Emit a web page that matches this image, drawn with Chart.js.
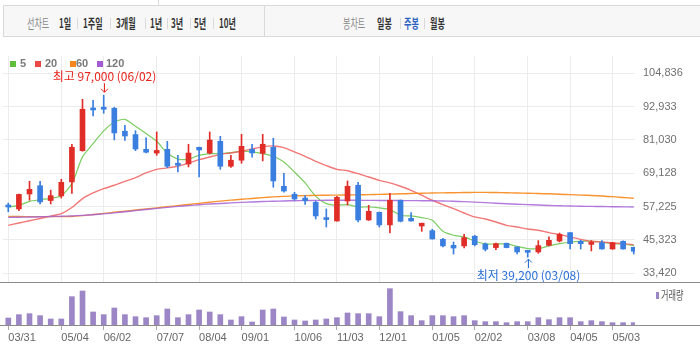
<!DOCTYPE html>
<html><head><meta charset="utf-8">
<script src="https://cdn.jsdelivr.net/npm/chart.js@4.4.0/dist/chart.umd.min.js"></script>
<style>
html,body{margin:0;padding:0;background:#fff;}
body{width:700px;height:361px;position:relative;overflow:hidden;font-family:'Noto Sans CJK KR','Noto Sans',sans-serif;}
canvas{position:absolute;left:0;}
#price{top:40px;}
#vol{top:283px;}
.box{position:absolute;left:3px;top:5px;width:697px;height:32px;box-sizing:border-box;background:#f7f7f7;border:1px solid #d9d9d9;border-right:none;}
.hd{position:absolute;top:15px;font-size:13px;line-height:15px;transform:scaleX(0.62);transform-origin:0 0;white-space:nowrap;font-weight:bold;color:#333;z-index:2;}
.hd.lab{font-weight:normal;color:#8a8a8a;}
.hd.on{color:#2c5fc3;}
.sep{position:absolute;top:18px;width:1px;height:11px;background:#dadada;z-index:2;}
.lg{position:absolute;top:57px;font:bold 11px 'Liberation Sans',Arial,sans-serif;color:#7a7a7a;line-height:13px;z-index:2;}
.sq{position:absolute;top:61px;width:6px;height:6px;z-index:2;}
.axline{position:absolute;left:0;width:700px;height:1px;background:#8c8c8c;z-index:2;}
</style></head>
<body>
<div style="position:absolute;left:158px;top:0;width:1px;height:5px;background:#d9d9d9"></div>
<div class="box"></div>
<div style="position:absolute;left:264px;top:5px;width:1px;height:32px;background:#d9d9d9"></div>
<span class="hd lab" style="left:27px">선차트</span>
<span class="hd" style="left:59px">1일</span><span class="sep" style="left:77px"></span>
<span class="hd" style="left:83px">1주일</span><span class="sep" style="left:110px"></span>
<span class="hd" style="left:116px">3개월</span><span class="sep" style="left:145px"></span>
<span class="hd" style="left:150px">1년</span><span class="sep" style="left:167px"></span>
<span class="hd" style="left:171px">3년</span><span class="sep" style="left:190px"></span>
<span class="hd" style="left:194px">5년</span><span class="sep" style="left:213px"></span>
<span class="hd" style="left:219px">10년</span>
<span class="hd lab" style="left:343px">봉차트</span>
<span class="hd" style="left:377px">일봉</span><span class="sep" style="left:400px"></span>
<span class="hd on" style="left:404px">주봉</span><span class="sep" style="left:424px"></span>
<span class="hd" style="left:430px">월봉</span>

<span class="sq" style="left:10px;background:#5fbf3c"></span><span class="lg" style="left:20px">5</span>
<span class="sq" style="left:35px;background:#ec4747"></span><span class="lg" style="left:45px">20</span>
<span class="sq" style="left:70px;background:#f7861c"></span><span class="lg" style="left:76px">60</span>
<span class="sq" style="left:97px;background:#a25bd2"></span><span class="lg" style="left:106px">120</span>

<canvas id="price" width="700" height="243"></canvas>
<canvas id="vol" width="700" height="78"></canvas>
<div class="axline" style="top:282px"></div>
<div class="axline" style="top:325px"></div>
<span style="position:absolute;left:656px;top:292px;width:3px;height:7px;background:#9c86c6;z-index:2"></span>
<span style="position:absolute;left:661px;top:288px;font-size:12px;line-height:14px;color:#555;transform:scaleX(0.68);transform-origin:0 0;white-space:nowrap;z-index:2">거래량</span>

<script>
// ---- data (weekly candles) ----
const open  = [57500,56400,61750,64700,59400,61050,66050,77200,92250,92700,92350,84150,82950,77700,76350,77700,72700,72450,78400,76350,80550,71650,73800,77700,76250,78400,64500,61650,60300,58800,53200,52100,59250,64850,52450,55200,50700,59500,53050,50300,48650,45550,43400,43200,46650,43900,42600,44150,42800,41500,41050,43400,44950,47950,44850,43750,44350,42100,44850,42700];
const high  = [58500,61700,66300,66300,63100,67000,79500,95550,95200,97000,92700,86250,84350,81750,83900,80550,75550,79500,78500,83900,82350,75550,83050,79500,83050,81650,69150,62350,61150,59150,56400,60900,66400,65900,57700,55300,62000,59600,55100,51350,49150,45900,44600,47350,47000,44250,44200,44200,42900,41600,45100,46400,47800,48000,45200,45100,45100,44500,45000,42800];
const low   = [55400,55800,59500,58200,58200,60300,61900,77000,89600,90550,81050,80900,77200,76400,75550,71150,69600,71400,67800,76000,70550,71250,72700,74850,73550,64150,62350,59500,58050,52800,49950,52000,57800,51750,52300,49950,47800,51750,52000,48400,45600,42800,40300,42450,43200,41400,41850,42500,40300,39200,40550,43200,44600,42100,42100,41400,42000,42000,42000,40300];
const close = [57100,61600,63400,58900,61150,65900,78400,92000,91750,92000,83550,82450,77800,76650,77300,71650,72000,76350,77450,81000,71650,73800,78750,76400,79500,66400,62800,59950,59350,53900,52600,60550,64500,52450,55550,50700,59500,52000,52100,51300,45700,43200,42450,46150,43650,42000,44000,42600,41050,40900,43300,45200,47350,44000,44000,44350,42100,44350,42100,41300];
const volume = [210,310,340,280,180,180,850,1020,390,310,510,310,250,220,280,480,220,310,450,390,310,150,250,90,450,480,240,150,120,150,180,220,360,340,340,250,1090,400,280,130,280,280,250,280,130,100,100,70,100,100,220,160,220,220,100,130,100,70,70,70];
const ma5   = [57100,57700,59100,59700,60200,61150,65450,75000,79700,84250,87450,88400,85900,83300,80550,76350,74200,74200,75550,76150,76150,76500,77000,76750,76150,75200,73200,69600,65700,60900,58300,57700,57950,57100,57100,56750,56150,54150,53900,53300,52350,48400,47000,46400,44950,43900,43900,43900,43050,42250,42250,43200,44000,44600,44850,44850,44600,44000,43800,43300];
const ma20  = [50550,51400,52200,53000,53850,54750,56900,60100,62100,63650,64850,66250,67600,69250,70550,71050,71650,72800,74000,74950,75900,76400,77000,77800,78550,78900,78300,76750,75200,73400,71900,70550,70050,69000,67800,66600,65700,64500,63050,61300,59500,57950,56500,54950,53550,52800,51750,50550,49950,49250,48800,47950,47250,46400,45550,44850,44600,44250,44000,43650];
const ma60  = [53700,53680,53660,53650,53650,53650,53700,54000,54400,54800,55200,55600,56000,56400,56800,57200,57600,58000,58400,58800,59200,59550,59850,60150,60450,60700,60900,61050,61150,61250,61300,61350,61400,61450,61500,61600,61700,61800,61900,62000,62100,62150,62200,62250,62300,62300,62250,62200,62100,62000,61900,61800,61650,61500,61350,61200,61000,60800,60500,60200];
const ma120 = [53400,53450,53500,53600,53700,53800,53900,54100,54350,54650,55000,55400,55800,56200,56600,56950,57300,57600,57900,58150,58350,58550,58750,58900,59050,59150,59250,59350,59400,59450,59500,59500,59500,59480,59460,59440,59420,59400,59370,59340,59300,59250,59150,59000,58850,58650,58450,58250,58100,57950,57800,57650,57550,57450,57350,57300,57250,57200,57150,57100];
const tickIdx    = [0,5,9,14,18,22,27,31,35,40,44,49,53,57];
const tickLabels = ['03/31','05/04','06/02','07/07','08/04','09/01','10/06','11/03','12/01','01/05','02/02','03/08','04/05','05/03'];
const priceTicks = [33420,45323,57225,69128,81030,92933,104836];

// ---- chart ----
Chart.defaults.font.family = "'Liberation Sans', Arial, sans-serif";
Chart.defaults.font.size = 11;
const UP = '#e02d27', DOWN = '#3a7ee0';
const idx = open.map((_, i) => i);
const candleColors = idx.map(i => close[i] >= open[i] ? UP : DOWN);
const fmt = v => v.toLocaleString('en-US');
const labelOf = i => { const k = tickIdx.indexOf(i); return k >= 0 ? tickLabels[k] : ''; };
const setTicks = arr => s => { s.ticks = arr.map(v => ({value: v})); };

const extremes = {
  id: 'extremes',
  afterDatasetsDraw(chart) {
    const {ctx, scales: {x, y}} = chart;
    let hi = 0, lo = 0;
    idx.forEach(i => { if (high[i] > high[hi]) hi = i; if (low[i] < low[lo]) lo = i; });
    ctx.save();
    ctx.font = "12px 'Noto Sans CJK KR', sans-serif";
    ctx.textAlign = 'center';
    ctx.textBaseline = 'middle';
    ctx.lineWidth = 1;
    let px = Math.round(x.getPixelForValue(hi)) + 0.5, py = y.getPixelForValue(high[hi]);
    ctx.fillStyle = '#e8231c'; ctx.strokeStyle = '#e8231c';
    ctx.fillText('최고 ' + fmt(high[hi]) + ' (' + labelOf(hi) + ')', px, py - 19);
    ctx.beginPath(); ctx.moveTo(px, py - 12); ctx.lineTo(px, py - 3);
    ctx.moveTo(px - 3.5, py - 6.5); ctx.lineTo(px, py - 3); ctx.lineTo(px + 3.5, py - 6.5); ctx.stroke();
    px = Math.round(x.getPixelForValue(lo)) + 0.5; py = y.getPixelForValue(low[lo]);
    ctx.fillStyle = '#2a6fd6'; ctx.strokeStyle = '#2a6fd6';
    ctx.fillText('최저 ' + fmt(low[lo]) + ' (' + labelOf(lo) + ')', px, py + 18);
    ctx.beginPath(); ctx.moveTo(px, py + 11); ctx.lineTo(px, py + 2);
    ctx.moveTo(px - 3.5, py + 5.5); ctx.lineTo(px, py + 2); ctx.lineTo(px + 3.5, py + 5.5); ctx.stroke();
    ctx.restore();
  }
};

const maLine = (label, arr, color, w) => ({
  type: 'line', label, data: arr.map((v, i) => ({x: i, y: v})),
  borderColor: color, borderWidth: w, pointRadius: 0, tension: 0.25, order: 2
});

new Chart(document.getElementById('price'), {
  type: 'bar',
  data: { datasets: [
    maLine('120', ma120, 'rgba(165,100,215,0.85)', 1.4),
    maLine('60', ma60, 'rgba(248,135,25,0.9)', 1.4),
    maLine('20', ma20, 'rgba(240,95,95,0.85)', 1.4),
    maLine('5', ma5, 'rgba(110,200,80,0.9)', 1.2),
    { label: 'wick', data: idx.map(i => ({x: i, y: [low[i], high[i]]})), backgroundColor: candleColors,
      barThickness: 1, grouped: false, minBarLength: 1, order: 1 },
    { label: 'body', data: idx.map(i => ({x: i, y: [open[i], close[i]]})), backgroundColor: candleColors,
      barThickness: 5, grouped: false, minBarLength: 2, order: 0 }
  ]},
  options: {
    animation: false, responsive: false, maintainAspectRatio: false,
    layout: { padding: { left: 3, right: 0, top: 16, bottom: 0 } },
    plugins: { legend: { display: false }, tooltip: { enabled: false } },
    scales: {
      x: { type: 'linear', offset: false, min: -0.5, max: 59.12, afterBuildTicks: setTicks(tickIdx),
           ticks: { display: false }, grid: { color: '#ececec', drawTicks: false, offset: false },
           border: { display: false },
           afterFit: s => { s.height = 0; s.paddingLeft = 0; s.paddingRight = 0; } },
      y: { position: 'right', min: 29956, max: 111014, afterBuildTicks: setTicks(priceTicks),
           ticks: { padding: 8, color: '#707070', callback: v => fmt(v) },
           grid: { color: '#ececec', drawTicks: false }, border: { display: false },
           afterFit: s => { s.width = 65; s.paddingTop = 0; s.paddingBottom = 0; } }
    }
  },
  plugins: [extremes]
});

new Chart(document.getElementById('vol'), {
  type: 'bar',
  data: { datasets: [
    { label: '거래량', data: idx.map(i => ({x: i, y: volume[i]})), backgroundColor: '#9c86c6',
      barThickness: 5, grouped: false }
  ]},
  options: {
    animation: false, responsive: false, maintainAspectRatio: false,
    layout: { padding: { left: 3, right: 0, top: 1, bottom: 0 } },
    plugins: { legend: { display: false }, tooltip: { enabled: false } },
    scales: {
      x: { type: 'linear', offset: false, min: -0.5, max: 59.12, afterBuildTicks: setTicks(tickIdx),
           ticks: { autoSkip: false, maxRotation: 0, align: 'start', padding: 1, color: '#666',
                    callback: v => labelOf(v) },
           grid: { offset: false, drawOnChartArea: false, drawTicks: true, tickLength: 5, color: '#aaa' },
           border: { display: false },
           afterFit: s => { s.height = 36; s.paddingLeft = 0; s.paddingRight = 0; } },
      y: { position: 'right', min: 0, max: 1230, ticks: { display: false }, grid: { display: false },
           border: { display: false },
           afterFit: s => { s.width = 65; s.paddingTop = 0; s.paddingBottom = 0; } }
    }
  }
});
</script>
</body></html>
